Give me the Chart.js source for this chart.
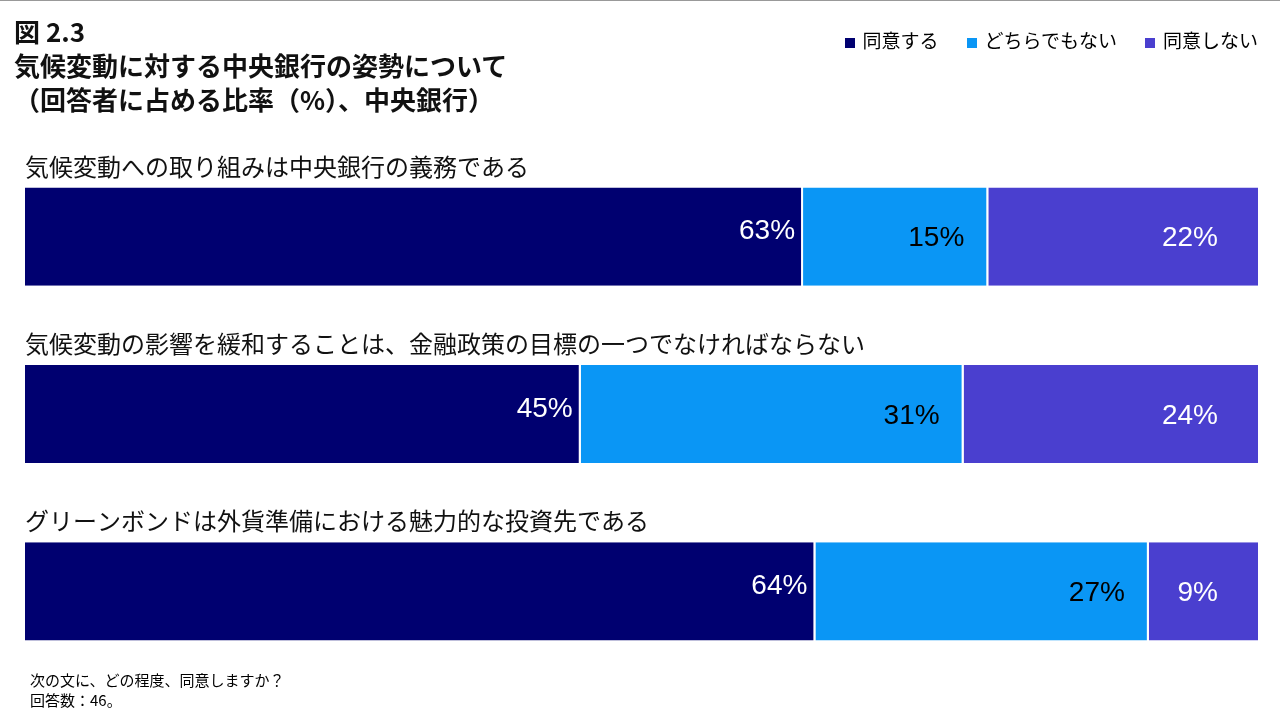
<!DOCTYPE html>
<html><head><meta charset="utf-8">
<script src="https://cdn.jsdelivr.net/npm/chart.js@4"></script>
<style>
body{margin:0;width:1280px;height:720px;position:relative;background:#fff;font-family:"Noto Sans CJK JP",sans-serif;overflow:hidden}
#c{position:absolute;left:0;top:0}
.t{position:absolute;color:#000}
#title{left:14px;top:14px;font-weight:bold;font-size:26px;line-height:34px;color:#111}
#legend{right:22px;top:26px;font-size:19px;display:flex;gap:28px}
#legend span i{display:inline-block;width:10px;height:10px;margin-right:8px;vertical-align:middle}
#note{left:30px;top:670px;font-size:15px;line-height:20px}
#topline{position:absolute;left:0;top:0;width:1280px;height:1px;background:#999}
</style></head><body>
<div id="topline"></div>
<canvas id="c" width="1280" height="720"></canvas>
<div class="t" id="title">図 2.3<br>気候変動に対する中央銀行の姿勢について<br>（回答者に占める比率（%）、中央銀行）</div>
<div class="t" id="legend"></div>
<div class="t" id="note">次の文に、どの程度、同意しますか？<br>回答数：46。</div>
<script>
const categories=['気候変動への取り組みは中央銀行の義務である','気候変動の影響を緩和することは、金融政策の目標の一つでなければならない','グリーンボンドは外貨準備における魅力的な投資先である'];
const seriesNames=['同意する','どちらでもない','同意しない'];
const agree=[63,45,64];
const neutral=[15,31,27];
const disagree=[22,24,9];
const colors=['#000070','#0a96f5','#4a3fcf'];
const labelColors=['#fff','#000','#fff'];
const padRight=[8,24,42];

document.getElementById('legend').innerHTML=seriesNames.map((n,i)=>`<span><i style="background:${colors[i]}"></i>${n}</span>`).join('');

const overlay={id:'overlay',afterDatasetsDraw(chart){
  const ctx=chart.ctx;
  ctx.save();
  chart.data.datasets.forEach((ds,di)=>{
    chart.getDatasetMeta(di).data.forEach((bar,i)=>{
      ctx.font='28px "Liberation Sans", Arial, sans-serif';
      ctx.fillStyle=labelColors[di];ctx.textAlign='right';ctx.textBaseline='middle';
      ctx.fillText(ds.data[i]+'%',bar.x-padRight[di],bar.y+(di===0?-5:2));
    });
  });
  const meta=chart.getDatasetMeta(0);
  ctx.font='24px "Noto Sans CJK JP", sans-serif';ctx.fillStyle='#111';ctx.textAlign='left';ctx.textBaseline='middle';
  meta.data.forEach((bar,i)=>ctx.fillText(categories[i],25,bar.y-bar.height/2-21));
  ctx.restore();
}};

new Chart(document.getElementById('c'),{
  type:'bar',
  data:{labels:categories,datasets:[agree,neutral,disagree].map((d,i)=>({label:seriesNames[i],data:d,backgroundColor:colors[i],borderColor:'#fff',borderWidth:{right:2,left:0,top:0,bottom:0},borderSkipped:false,barPercentage:0.554,categoryPercentage:1}))},
  options:{indexAxis:'y',responsive:false,animation:false,
    layout:{padding:{left:25,right:20,top:148,bottom:40}},
    plugins:{legend:{display:false},tooltip:{enabled:false}},
    scales:{x:{stacked:true,min:0,max:100,display:false},y:{stacked:true,display:false}}},
  plugins:[overlay]
});
</script>
</body></html>
